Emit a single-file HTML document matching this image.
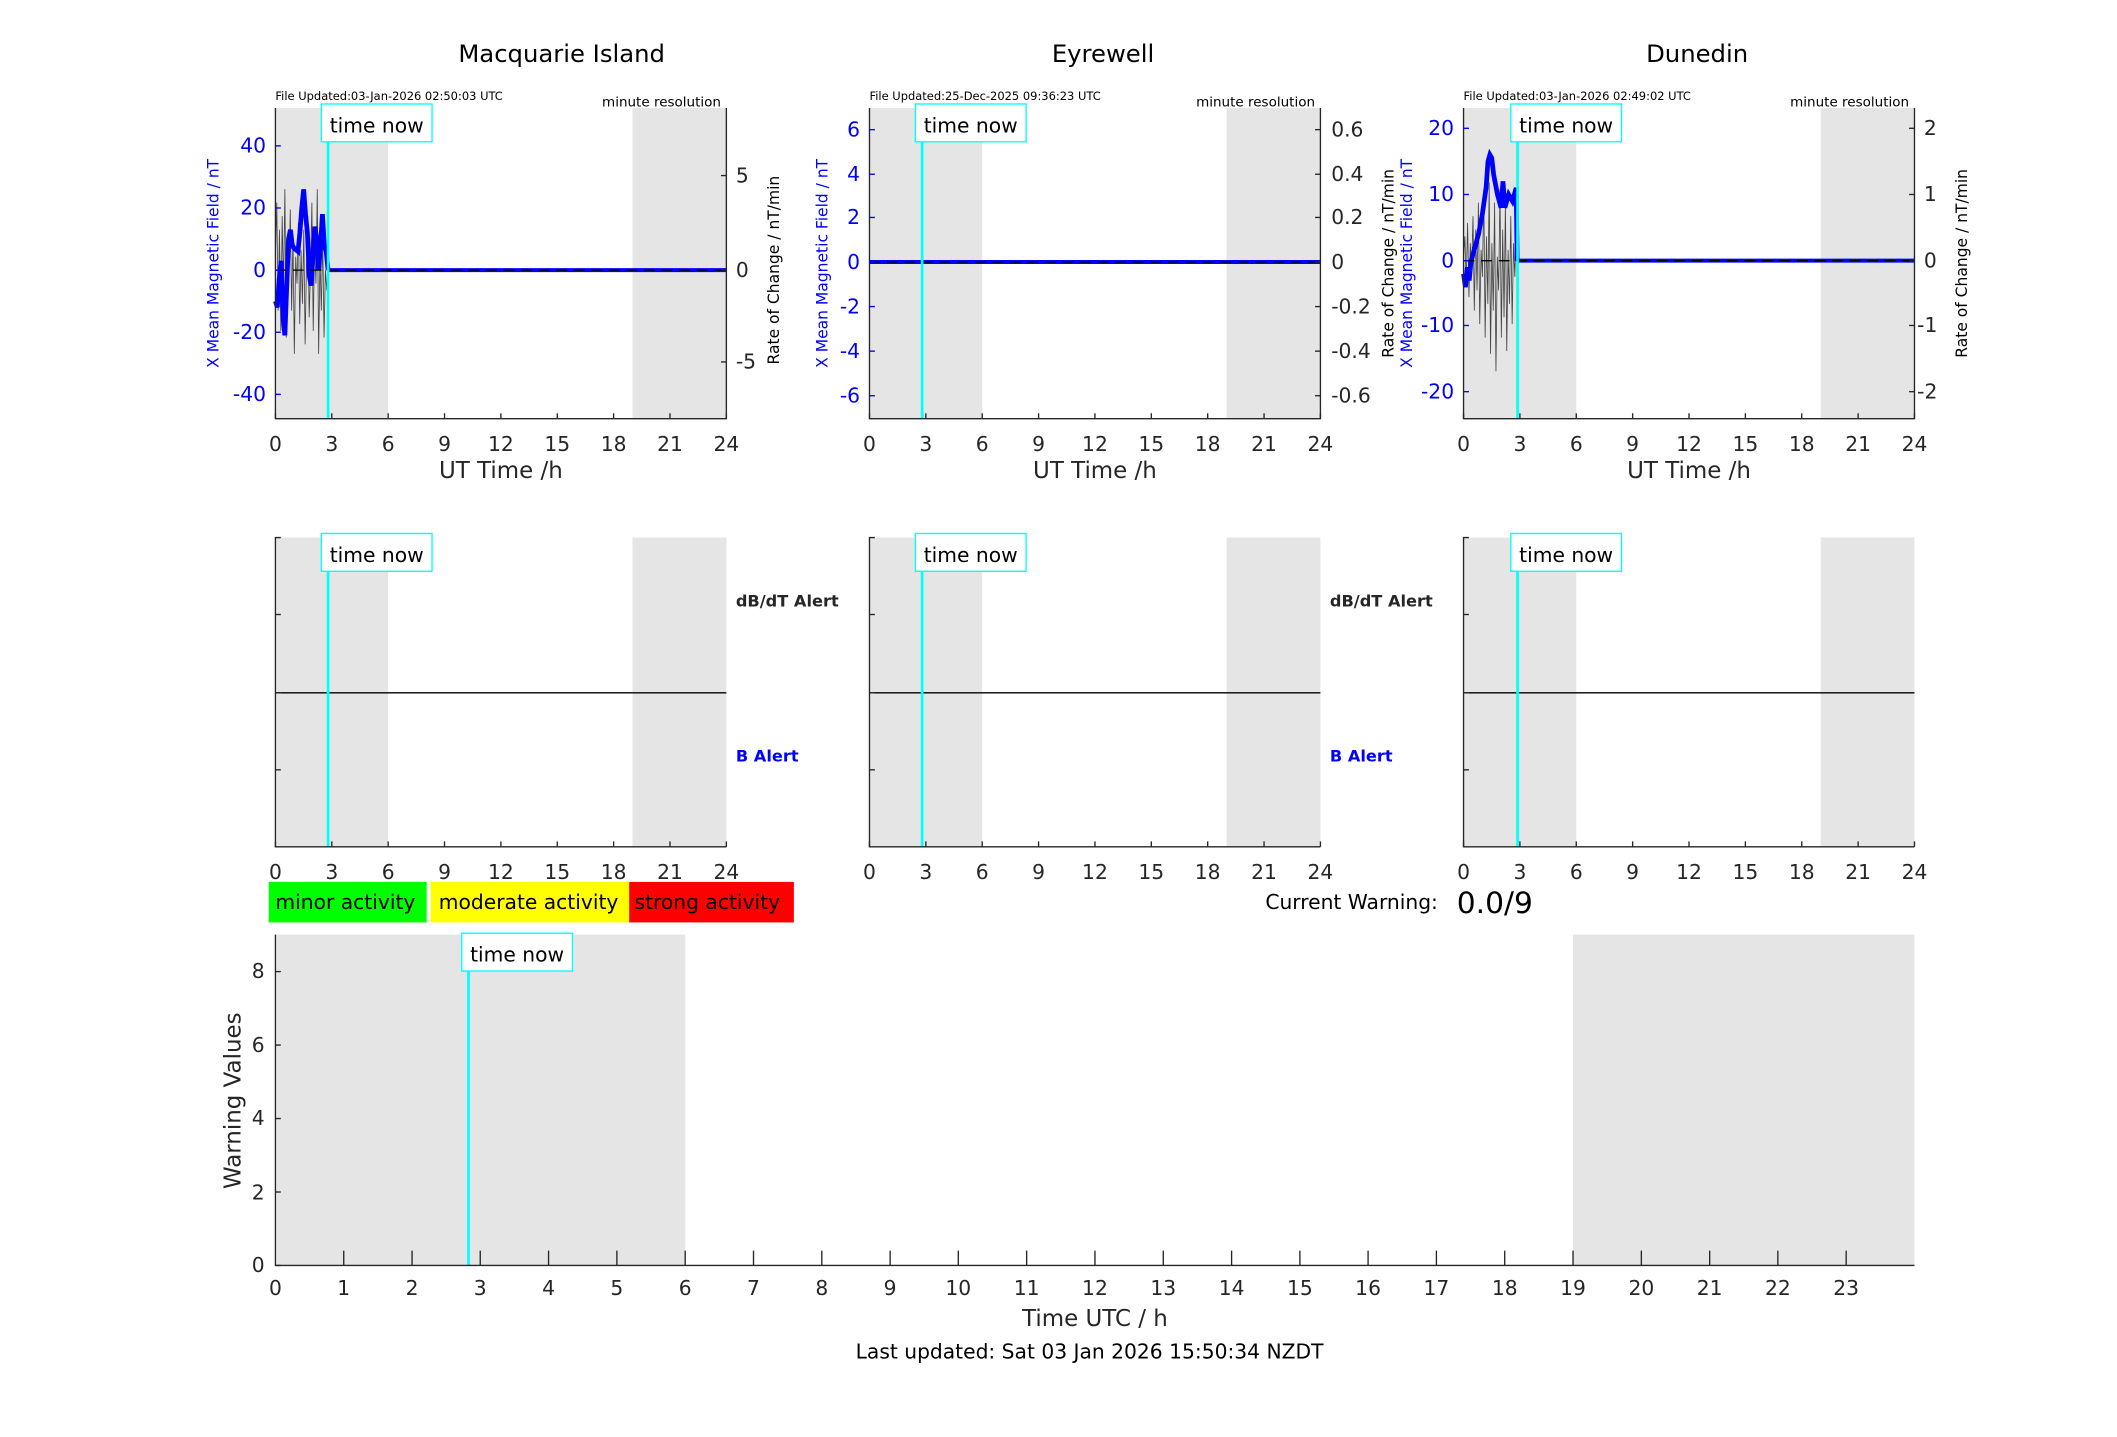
<!DOCTYPE html>
<html><head><meta charset="utf-8"><style>html,body{margin:0;padding:0;background:#fff}svg{display:block}text{font-family:"DejaVu Sans","Liberation Sans",sans-serif}</style></head><body>
<svg width="2117" height="1437" viewBox="0 0 1568 1064" preserveAspectRatio="none" xmlns="http://www.w3.org/2000/svg">
<defs>
<g id="xt">
<g stroke="#262626" stroke-width="1">
<line x1="0" y1="0" x2="0" y2="-4"/><line x1="41.75" y1="0" x2="41.75" y2="-4"/><line x1="83.5" y1="0" x2="83.5" y2="-4"/><line x1="125.25" y1="0" x2="125.25" y2="-4"/><line x1="167" y1="0" x2="167" y2="-4"/><line x1="208.75" y1="0" x2="208.75" y2="-4"/><line x1="250.5" y1="0" x2="250.5" y2="-4"/><line x1="292.25" y1="0" x2="292.25" y2="-4"/><line x1="334" y1="0" x2="334" y2="-4"/>
</g>
<g font-size="15" fill="#262626" text-anchor="middle">
<text x="0" y="24">0</text><text x="41.75" y="24">3</text><text x="83.5" y="24">6</text><text x="125.25" y="24">9</text><text x="167" y="24">12</text><text x="208.75" y="24">15</text><text x="250.5" y="24">18</text><text x="292.25" y="24">21</text><text x="334" y="24">24</text>
</g>
</g>
<g id="tn"><rect x="-5" y="-15" width="82" height="28" fill="#fff" stroke="#00ffff" stroke-width="1"/><text x="36" y="6" font-size="15" text-anchor="middle" fill="#000">time now</text></g>
</defs>

<g font-size="18" text-anchor="middle" fill="#000">
<text x="416" y="46">Macquarie Island</text><text x="817" y="46">Eyrewell</text><text x="1257" y="46">Dunedin</text>
</g>

<g>
<rect x="204" y="80" width="83.5" height="230" fill="#e5e5e5"/><rect x="468.5" y="80" width="69.5" height="230" fill="#e5e5e5"/>
<polyline fill="none" stroke="#444" stroke-width="0.6" points="204,190 205,150 206,230 207,170 208,245 209,160 210,215 211,140 212,250 213,180 214,205 215,155 216,230 217,175 218,262 219,190 220,210 221,165 222,240 223,185 224,225 225,170 226,255 227,195 228,160 229,235 230,200 231,150 232,245 233,180 234,210 235,140 236,262 237,190 238,230 239,175 240,250 241,200 242,215 243,200"/>
<polyline fill="none" stroke="#0000ff" stroke-width="3.5" points="204,223 205.4,227.6 206.8,206.9 208.2,193.1 209.6,234.5 211,248.3 212.4,211.5 213.7,177 215.1,170.1 216.5,181.6 217.9,183.9 220.7,186.2 222.1,172.4 223.5,154 224.9,140.2 226.3,158.6 227.7,172.4 229.1,204.6 230.4,211.5 231.8,188.5 233.2,167.8 234.6,177 236,200 237.4,181.6 238.8,158.6 240.2,181.6 241.6,186.2 243,200"/>
<line x1="243" y1="200" x2="538" y2="200" stroke="#0000ff" stroke-width="3"/>
<line x1="204" y1="200" x2="538" y2="200" stroke="#000" stroke-width="1" stroke-dasharray="8,5"/>
<line x1="243" y1="80" x2="243" y2="310" stroke="#00ffff" stroke-width="2"/>
<use href="#tn" x="243" y="92"/>
<path d="M204,80V310H538V80" fill="none" stroke="#262626"/>
<use href="#xt" x="204" y="310"/>
<g stroke="#0000ff"><line x1="204" y1="108" x2="208" y2="108"/><line x1="204" y1="154" x2="208" y2="154"/><line x1="204" y1="200" x2="208" y2="200"/><line x1="204" y1="246" x2="208" y2="246"/><line x1="204" y1="292" x2="208" y2="292"/></g>
<g font-size="15" fill="#0000ff" text-anchor="end"><text x="197" y="113">40</text><text x="197" y="159">20</text><text x="197" y="205">0</text><text x="197" y="251">-20</text><text x="197" y="297">-40</text></g>
<g stroke="#262626"><line x1="534" y1="130" x2="538" y2="130"/><line x1="534" y1="200" x2="538" y2="200"/><line x1="534" y1="268" x2="538" y2="268"/></g>
<g font-size="15" fill="#262626"><text x="545" y="135">5</text><text x="545" y="205">0</text><text x="545" y="273">-5</text></g>
<text transform="translate(162,195) rotate(-90)" font-size="11.5" fill="#0000ff" text-anchor="middle">X Mean Magnetic Field / nT</text>
<text transform="translate(577,200) rotate(-90)" font-size="11.5" fill="#000" text-anchor="middle">Rate of Change / nT/min</text>
<text x="204" y="74" font-size="8.5">File Updated:03-Jan-2026 02:50:03 UTC</text>
<text x="534" y="79" font-size="10" text-anchor="end">minute resolution</text>
<text x="371" y="354" font-size="17" fill="#262626" text-anchor="middle">UT Time /h</text>

<rect x="644" y="80" width="83.5" height="230" fill="#e5e5e5"/><rect x="908.5" y="80" width="69.5" height="230" fill="#e5e5e5"/>
<line x1="644" y1="194" x2="978" y2="194" stroke="#0000ff" stroke-width="3"/>
<line x1="644" y1="194" x2="978" y2="194" stroke="#000" stroke-width="1" stroke-dasharray="8,5"/>
<line x1="683" y1="80" x2="683" y2="310" stroke="#00ffff" stroke-width="2"/>
<use href="#tn" x="683" y="92"/>
<path d="M644,80V310H978V80" fill="none" stroke="#262626"/>
<use href="#xt" x="644" y="310"/>
<g stroke="#0000ff"><line x1="644" y1="96" x2="648" y2="96"/><line x1="644" y1="129" x2="648" y2="129"/><line x1="644" y1="161" x2="648" y2="161"/><line x1="644" y1="194" x2="648" y2="194"/><line x1="644" y1="227" x2="648" y2="227"/><line x1="644" y1="260" x2="648" y2="260"/><line x1="644" y1="293" x2="648" y2="293"/></g>
<g font-size="15" fill="#0000ff" text-anchor="end"><text x="637" y="101">6</text><text x="637" y="134">4</text><text x="637" y="166">2</text><text x="637" y="199">0</text><text x="637" y="232">-2</text><text x="637" y="265">-4</text><text x="637" y="298">-6</text></g>
<g stroke="#262626"><line x1="974" y1="96" x2="978" y2="96"/><line x1="974" y1="129" x2="978" y2="129"/><line x1="974" y1="161" x2="978" y2="161"/><line x1="974" y1="194" x2="978" y2="194"/><line x1="974" y1="227" x2="978" y2="227"/><line x1="974" y1="260" x2="978" y2="260"/><line x1="974" y1="293" x2="978" y2="293"/></g>
<g font-size="15" fill="#262626"><text x="986" y="101">0.6</text><text x="986" y="134">0.4</text><text x="986" y="166">0.2</text><text x="986" y="199">0</text><text x="986" y="232">-0.2</text><text x="986" y="265">-0.4</text><text x="986" y="298">-0.6</text></g>
<text transform="translate(613,195) rotate(-90)" font-size="11.5" fill="#0000ff" text-anchor="middle">X Mean Magnetic Field / nT</text>
<text transform="translate(1032,195) rotate(-90)" font-size="11.5" fill="#000" text-anchor="middle">Rate of Change / nT/min</text>
<text x="644" y="74" font-size="8.5">File Updated:25-Dec-2025 09:36:23 UTC</text>
<text x="974" y="79" font-size="10" text-anchor="end">minute resolution</text>
<text x="811" y="354" font-size="17" fill="#262626" text-anchor="middle">UT Time /h</text>

<rect x="1084" y="80" width="83.5" height="230" fill="#e5e5e5"/><rect x="1348.5" y="80" width="69.5" height="230" fill="#e5e5e5"/>
<polyline fill="none" stroke="#444" stroke-width="0.6" points="1084,190 1085,175 1086,210 1087,165 1088,220 1089,180 1090,200 1091,160 1092,230 1093,170 1094,215 1095,150 1096,240 1097,185 1098,205 1099,140 1100,250 1101,175 1102,225 1103,135 1104,262 1105,180 1106,230 1107,150 1108,275 1109,190 1110,215 1111,140 1112,250 1113,170 1114,235 1115,150 1116,260 1117,185 1118,225 1119,160 1120,240 1121,180 1122,205 1123,170 1124,193"/>
<polyline fill="none" stroke="#0000ff" stroke-width="3.5" points="1084,202.8 1085.4,212.6 1086.8,197.9 1088.2,207.7 1089.6,193 1092.4,183.2 1095.1,173.4 1097.9,158.7 1100.7,139.1 1102.1,119.5 1103.5,114.6 1104.9,117 1106.3,129.3 1109.1,144 1111.8,153.8 1113.2,134.2 1114.6,153.8 1117.4,144 1120.2,148.9 1123,139.1 1123.7,193"/>
<line x1="1124" y1="193" x2="1418" y2="193" stroke="#0000ff" stroke-width="3"/>
<line x1="1084" y1="193" x2="1418" y2="193" stroke="#000" stroke-width="1" stroke-dasharray="8,5"/>
<line x1="1124" y1="80" x2="1124" y2="310" stroke="#00ffff" stroke-width="2"/>
<use href="#tn" x="1124" y="92"/>
<path d="M1084,80V310H1418V80" fill="none" stroke="#262626"/>
<use href="#xt" x="1084" y="310"/>
<g stroke="#0000ff"><line x1="1084" y1="95" x2="1088" y2="95"/><line x1="1084" y1="144" x2="1088" y2="144"/><line x1="1084" y1="193" x2="1088" y2="193"/><line x1="1084" y1="241" x2="1088" y2="241"/><line x1="1084" y1="290" x2="1088" y2="290"/></g>
<g font-size="15" fill="#0000ff" text-anchor="end"><text x="1077" y="100">20</text><text x="1077" y="149">10</text><text x="1077" y="198">0</text><text x="1077" y="246">-10</text><text x="1077" y="295">-20</text></g>
<g stroke="#262626"><line x1="1414" y1="95" x2="1418" y2="95"/><line x1="1414" y1="144" x2="1418" y2="144"/><line x1="1414" y1="193" x2="1418" y2="193"/><line x1="1414" y1="241" x2="1418" y2="241"/><line x1="1414" y1="290" x2="1418" y2="290"/></g>
<g font-size="15" fill="#262626"><text x="1425" y="100">2</text><text x="1425" y="149">1</text><text x="1425" y="198">0</text><text x="1420" y="246">-1</text><text x="1420" y="295">-2</text></g>
<text transform="translate(1046,195) rotate(-90)" font-size="11.5" fill="#0000ff" text-anchor="middle">X Mean Magnetic Field / nT</text>
<text transform="translate(1457,195) rotate(-90)" font-size="11.5" fill="#000" text-anchor="middle">Rate of Change / nT/min</text>
<text x="1084" y="74" font-size="8.5">File Updated:03-Jan-2026 02:49:02 UTC</text>
<text x="1414" y="79" font-size="10" text-anchor="end">minute resolution</text>
<text x="1251" y="354" font-size="17" fill="#262626" text-anchor="middle">UT Time /h</text>
</g>

<g>
<rect x="204" y="398" width="83.5" height="229" fill="#e5e5e5"/><rect x="468.5" y="398" width="69.5" height="229" fill="#e5e5e5"/>
<line x1="204" y1="513" x2="538" y2="513" stroke="#000"/>
<line x1="243" y1="398" x2="243" y2="627" stroke="#00ffff" stroke-width="2"/>
<use href="#tn" x="243" y="410"/>
<path d="M208,398H204V627H538" fill="none" stroke="#262626"/>
<g stroke="#262626"><line x1="204" y1="455" x2="208" y2="455"/><line x1="204" y1="513" x2="208" y2="513"/><line x1="204" y1="570" x2="208" y2="570"/></g>
<use href="#xt" x="204" y="627"/>
<text x="545" y="449" font-size="12" font-weight="bold" fill="#262626">dB/dT Alert</text>
<text x="545" y="564" font-size="12" font-weight="bold" fill="#0000ff">B Alert</text>

<rect x="644" y="398" width="83.5" height="229" fill="#e5e5e5"/><rect x="908.5" y="398" width="69.5" height="229" fill="#e5e5e5"/>
<line x1="644" y1="513" x2="978" y2="513" stroke="#000"/>
<line x1="683" y1="398" x2="683" y2="627" stroke="#00ffff" stroke-width="2"/>
<use href="#tn" x="683" y="410"/>
<path d="M648,398H644V627H978" fill="none" stroke="#262626"/>
<g stroke="#262626"><line x1="644" y1="455" x2="648" y2="455"/><line x1="644" y1="513" x2="648" y2="513"/><line x1="644" y1="570" x2="648" y2="570"/></g>
<use href="#xt" x="644" y="627"/>
<text x="985" y="449" font-size="12" font-weight="bold" fill="#262626">dB/dT Alert</text>
<text x="985" y="564" font-size="12" font-weight="bold" fill="#0000ff">B Alert</text>

<rect x="1084" y="398" width="83.5" height="229" fill="#e5e5e5"/><rect x="1348.5" y="398" width="69.5" height="229" fill="#e5e5e5"/>
<line x1="1084" y1="513" x2="1418" y2="513" stroke="#000"/>
<line x1="1124" y1="398" x2="1124" y2="627" stroke="#00ffff" stroke-width="2"/>
<use href="#tn" x="1124" y="410"/>
<path d="M1088,398H1084V627H1418" fill="none" stroke="#262626"/>
<g stroke="#262626"><line x1="1084" y1="455" x2="1088" y2="455"/><line x1="1084" y1="513" x2="1088" y2="513"/><line x1="1084" y1="570" x2="1088" y2="570"/></g>
<use href="#xt" x="1084" y="627"/>
</g>

<rect x="199" y="653" width="117" height="30" fill="#00ff00"/>
<rect x="319" y="653" width="147" height="30" fill="#ffff00"/>
<rect x="466" y="653" width="122" height="30" fill="#ff0000"/>
<g font-size="15" fill="#000"><text x="204" y="673">minor activity</text><text x="325" y="673">moderate activity</text><text x="470" y="673">strong activity</text></g>
<text x="1065" y="673" font-size="15" fill="#000" text-anchor="end">Current Warning:</text>
<text x="1079" y="676" font-size="22" fill="#000">0.0/9</text>

<rect x="204" y="692" width="303.5" height="245" fill="#e5e5e5"/>
<rect x="1165" y="692" width="253" height="245" fill="#e5e5e5"/>
<line x1="347" y1="692" x2="347" y2="937" stroke="#00ffff" stroke-width="2"/>
<use href="#tn" x="347" y="706"/>
<path d="M204,692V937H1418" fill="none" stroke="#262626"/>
<g stroke="#262626">
<line x1="204" y1="937" x2="208" y2="937"/><line x1="204" y1="882.6" x2="208" y2="882.6"/><line x1="204" y1="828.2" x2="208" y2="828.2"/><line x1="204" y1="773.8" x2="208" y2="773.8"/><line x1="204" y1="719.4" x2="208" y2="719.4"/>
</g>
<g font-size="15" fill="#262626" text-anchor="end"><text x="196" y="942">0</text><text x="196" y="888">2</text><text x="196" y="833">4</text><text x="196" y="779">6</text><text x="196" y="724">8</text></g>
<g stroke="#262626">
<line x1="254.6" y1="937" x2="254.6" y2="926"/><line x1="305.2" y1="937" x2="305.2" y2="926"/><line x1="355.7" y1="937" x2="355.7" y2="926"/><line x1="406.3" y1="937" x2="406.3" y2="926"/><line x1="456.9" y1="937" x2="456.9" y2="926"/><line x1="507.5" y1="937" x2="507.5" y2="926"/><line x1="558.1" y1="937" x2="558.1" y2="926"/><line x1="608.7" y1="937" x2="608.7" y2="926"/><line x1="659.3" y1="937" x2="659.3" y2="926"/><line x1="709.8" y1="937" x2="709.8" y2="926"/><line x1="760.4" y1="937" x2="760.4" y2="926"/><line x1="811" y1="937" x2="811" y2="926"/><line x1="861.6" y1="937" x2="861.6" y2="926"/><line x1="912.2" y1="937" x2="912.2" y2="926"/><line x1="962.8" y1="937" x2="962.8" y2="926"/><line x1="1013.3" y1="937" x2="1013.3" y2="926"/><line x1="1063.9" y1="937" x2="1063.9" y2="926"/><line x1="1114.5" y1="937" x2="1114.5" y2="926"/><line x1="1165.1" y1="937" x2="1165.1" y2="926"/><line x1="1215.7" y1="937" x2="1215.7" y2="926"/><line x1="1266.3" y1="937" x2="1266.3" y2="926"/><line x1="1316.8" y1="937" x2="1316.8" y2="926"/><line x1="1367.4" y1="937" x2="1367.4" y2="926"/>
</g>
<g font-size="15" fill="#262626" text-anchor="middle">
<text x="204" y="959">0</text><text x="254.6" y="959">1</text><text x="305.2" y="959">2</text><text x="355.7" y="959">3</text><text x="406.3" y="959">4</text><text x="456.9" y="959">5</text><text x="507.5" y="959">6</text><text x="558.1" y="959">7</text><text x="608.7" y="959">8</text><text x="659.3" y="959">9</text><text x="709.8" y="959">10</text><text x="760.4" y="959">11</text><text x="811" y="959">12</text><text x="861.6" y="959">13</text><text x="912.2" y="959">14</text><text x="962.8" y="959">15</text><text x="1013.3" y="959">16</text><text x="1063.9" y="959">17</text><text x="1114.5" y="959">18</text><text x="1165.1" y="959">19</text><text x="1215.7" y="959">20</text><text x="1266.3" y="959">21</text><text x="1316.8" y="959">22</text><text x="1367.4" y="959">23</text>
</g>
<text x="811" y="982" font-size="17" fill="#262626" text-anchor="middle">Time UTC / h</text>
<text transform="translate(178,815) rotate(-90)" font-size="17" fill="#262626" text-anchor="middle">Warning Values</text>
<text x="807" y="1006" font-size="15" fill="#000" text-anchor="middle">Last updated: Sat 03 Jan 2026 15:50:34 NZDT</text>
</svg>
</body></html>
